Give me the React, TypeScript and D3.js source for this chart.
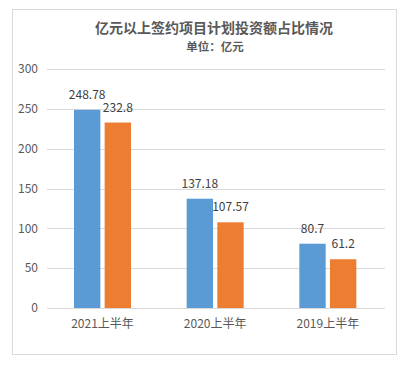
import React, { useEffect, useRef } from 'react'
import * as d3 from 'd3'

const categories = ['2021上半年', '2020上半年', '2019上半年']
const seriesA = [248.78, 137.18, 80.7]
const seriesB = [232.8, 107.57, 61.2]
const yTicks = [0, 50, 100, 150, 200, 250, 300]

export default function App(): React.ReactElement {
  const chartRef = useRef<HTMLDivElement>(null)

  useEffect(() => {
    const width = 406
    const height = 367
    const marginLeft = 47
    const marginRight = 21
    const marginTop = 69
    const plotBottom = 308
    const font = '"Noto Sans CJK SC", "Noto Sans", sans-serif'

    d3.select(chartRef.current).select('svg').remove()

    const svg = d3
      .select(chartRef.current)
      .append('svg')
      .attr('width', width)
      .attr('height', height)
      .style('position', 'absolute')
      .style('left', 0)
      .style('top', 0)
      .style('font-family', font)

    svg
      .append('rect')
      .attr('x', 12.5)
      .attr('y', 9.5)
      .attr('width', 384)
      .attr('height', 345)
      .attr('fill', 'white')
      .attr('stroke', '#d9d9d9')

    const x = d3
      .scaleBand()
      .domain(categories)
      .range([marginLeft, width - marginRight])

    const inner = d3
      .scaleBand()
      .domain(['a', 'b'])
      .range([27, 27 + 57])
      .paddingInner(0.14)

    const y = d3.scaleLinear().domain([0, 300]).range([plotBottom, marginTop])

    svg
      .append('g')
      .selectAll('line')
      .data(yTicks)
      .join('line')
      .attr('x1', marginLeft)
      .attr('x2', width - marginRight)
      .attr('y1', (d) => Math.round(y(d)) + 0.5)
      .attr('y2', (d) => Math.round(y(d)) + 0.5)
      .attr('stroke', '#d9d9d9')

    svg
      .append('g')
      .attr('fill', '#595959')
      .attr('font-size', 12)
      .attr('text-anchor', 'end')
      .selectAll('text')
      .data(yTicks)
      .join('text')
      .attr('x', 38)
      .attr('y', (d) => y(d))
      .attr('dy', '0.35em')
      .text((d) => d)

    const series = [
      { key: 'a', values: seriesA, color: '#5b9bd5' },
      { key: 'b', values: seriesB, color: '#ed7d31' },
    ]

    series.forEach((s) => {
      const g = svg.append('g')
      g.selectAll('rect')
        .data(categories)
        .join('rect')
        .attr('x', (c) => x(c)! + inner(s.key)!)
        .attr('y', (c, i) => y(s.values[i]))
        .attr('width', inner.bandwidth())
        .attr('height', (c, i) => plotBottom - y(s.values[i]))
        .attr('fill', s.color)
      g.selectAll('text')
        .data(categories)
        .join('text')
        .attr('x', (c) => x(c)! + inner(s.key)! + inner.bandwidth() / 2)
        .attr('y', (c, i) => y(s.values[i]) - 11)
        .attr('text-anchor', 'middle')
        .attr('font-size', 12)
        .attr('fill', '#404040')
        .text((c, i) => s.values[i])
    })

    svg
      .append('g')
      .attr('fill', '#595959')
      .attr('font-size', 12)
      .attr('text-anchor', 'middle')
      .selectAll('text')
      .data(categories)
      .join('text')
      .attr('x', (c) => x(c)! + 27 + 57 / 2)
      .attr('y', 328)
      .text((c) => c)

    svg
      .append('text')
      .attr('x', 214)
      .attr('y', 33)
      .attr('text-anchor', 'middle')
      .attr('font-size', 14)
      .attr('font-weight', 'bold')
      .attr('fill', '#595959')
      .text('亿元以上签约项目计划投资额占比情况')

    svg
      .append('text')
      .attr('x', 215)
      .attr('y', 51)
      .attr('text-anchor', 'middle')
      .attr('font-size', 11.5)
      .attr('font-weight', 'bold')
      .attr('fill', '#595959')
      .text('单位：亿元')
  }, [])

  return <div ref={chartRef}></div>
}
